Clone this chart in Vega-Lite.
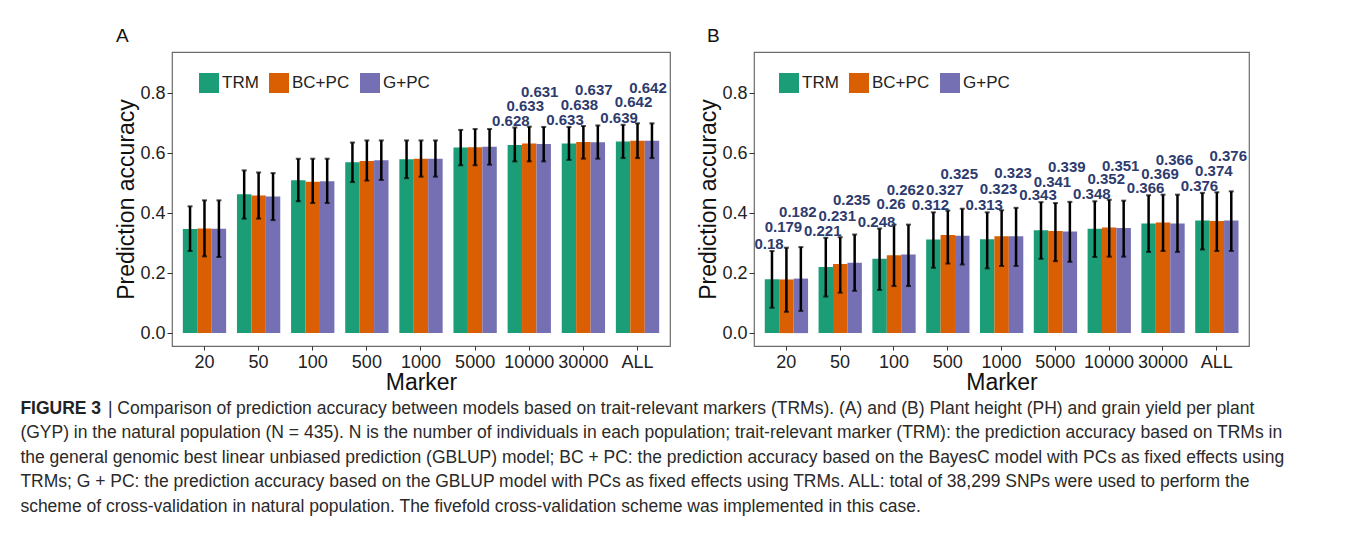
{
  "$schema": "https://vega.github.io/schema/vega-lite/v6.json",
  "padding": {"left": 20, "top": 26, "right": 5, "bottom": 5},
  "background": "white",
  "datasets": {
    "acc": [
      {"panel": "A", "marker": "20", "model": "TRM", "acc": 0.347, "lo": 0.274, "hi": 0.423, "lab": 0},
      {"panel": "A", "marker": "20", "model": "BC+PC", "acc": 0.349, "lo": 0.256, "hi": 0.443, "lab": 0},
      {"panel": "A", "marker": "20", "model": "G+PC", "acc": 0.348, "lo": 0.254, "hi": 0.443, "lab": 0},
      {"panel": "A", "marker": "50", "model": "TRM", "acc": 0.463, "lo": 0.382, "hi": 0.543, "lab": 0},
      {"panel": "A", "marker": "50", "model": "BC+PC", "acc": 0.459, "lo": 0.382, "hi": 0.536, "lab": 0},
      {"panel": "A", "marker": "50", "model": "G+PC", "acc": 0.456, "lo": 0.377, "hi": 0.534, "lab": 0},
      {"panel": "A", "marker": "100", "model": "TRM", "acc": 0.510, "lo": 0.440, "hi": 0.582, "lab": 0},
      {"panel": "A", "marker": "100", "model": "BC+PC", "acc": 0.505, "lo": 0.434, "hi": 0.582, "lab": 0},
      {"panel": "A", "marker": "100", "model": "G+PC", "acc": 0.507, "lo": 0.434, "hi": 0.582, "lab": 0},
      {"panel": "A", "marker": "500", "model": "TRM", "acc": 0.570, "lo": 0.504, "hi": 0.636, "lab": 0},
      {"panel": "A", "marker": "500", "model": "BC+PC", "acc": 0.574, "lo": 0.509, "hi": 0.643, "lab": 0},
      {"panel": "A", "marker": "500", "model": "G+PC", "acc": 0.577, "lo": 0.511, "hi": 0.643, "lab": 0},
      {"panel": "A", "marker": "1000", "model": "TRM", "acc": 0.580, "lo": 0.517, "hi": 0.643, "lab": 0},
      {"panel": "A", "marker": "1000", "model": "BC+PC", "acc": 0.582, "lo": 0.522, "hi": 0.643, "lab": 0},
      {"panel": "A", "marker": "1000", "model": "G+PC", "acc": 0.582, "lo": 0.522, "hi": 0.643, "lab": 0},
      {"panel": "A", "marker": "5000", "model": "TRM", "acc": 0.619, "lo": 0.560, "hi": 0.678, "lab": 0},
      {"panel": "A", "marker": "5000", "model": "BC+PC", "acc": 0.620, "lo": 0.560, "hi": 0.681, "lab": 0},
      {"panel": "A", "marker": "5000", "model": "G+PC", "acc": 0.622, "lo": 0.562, "hi": 0.681, "lab": 0},
      {"panel": "A", "marker": "10000", "model": "TRM", "acc": 0.628, "lo": 0.573, "hi": 0.686, "lab": 1},
      {"panel": "A", "marker": "10000", "model": "BC+PC", "acc": 0.633, "lo": 0.573, "hi": 0.689, "lab": 1},
      {"panel": "A", "marker": "10000", "model": "G+PC", "acc": 0.631, "lo": 0.573, "hi": 0.688, "lab": 1},
      {"panel": "A", "marker": "30000", "model": "TRM", "acc": 0.633, "lo": 0.578, "hi": 0.688, "lab": 1},
      {"panel": "A", "marker": "30000", "model": "BC+PC", "acc": 0.638, "lo": 0.582, "hi": 0.691, "lab": 1},
      {"panel": "A", "marker": "30000", "model": "G+PC", "acc": 0.637, "lo": 0.582, "hi": 0.693, "lab": 1},
      {"panel": "A", "marker": "ALL", "model": "TRM", "acc": 0.639, "lo": 0.584, "hi": 0.695, "lab": 1},
      {"panel": "A", "marker": "ALL", "model": "BC+PC", "acc": 0.642, "lo": 0.584, "hi": 0.700, "lab": 1},
      {"panel": "A", "marker": "ALL", "model": "G+PC", "acc": 0.642, "lo": 0.584, "hi": 0.700, "lab": 1},
      {"panel": "B", "marker": "20", "model": "TRM", "acc": 0.18, "lo": 0.085, "hi": 0.274, "lab": 1},
      {"panel": "B", "marker": "20", "model": "BC+PC", "acc": 0.179, "lo": 0.071, "hi": 0.285, "lab": 1},
      {"panel": "B", "marker": "20", "model": "G+PC", "acc": 0.182, "lo": 0.074, "hi": 0.287, "lab": 1},
      {"panel": "B", "marker": "50", "model": "TRM", "acc": 0.221, "lo": 0.122, "hi": 0.318, "lab": 1},
      {"panel": "B", "marker": "50", "model": "BC+PC", "acc": 0.231, "lo": 0.135, "hi": 0.320, "lab": 1},
      {"panel": "B", "marker": "50", "model": "G+PC", "acc": 0.235, "lo": 0.141, "hi": 0.329, "lab": 1},
      {"panel": "B", "marker": "100", "model": "TRM", "acc": 0.248, "lo": 0.144, "hi": 0.349, "lab": 1},
      {"panel": "B", "marker": "100", "model": "BC+PC", "acc": 0.26, "lo": 0.157, "hi": 0.362, "lab": 1},
      {"panel": "B", "marker": "100", "model": "G+PC", "acc": 0.262, "lo": 0.157, "hi": 0.362, "lab": 1},
      {"panel": "B", "marker": "500", "model": "TRM", "acc": 0.312, "lo": 0.218, "hi": 0.403, "lab": 1},
      {"panel": "B", "marker": "500", "model": "BC+PC", "acc": 0.327, "lo": 0.232, "hi": 0.409, "lab": 1},
      {"panel": "B", "marker": "500", "model": "G+PC", "acc": 0.325, "lo": 0.229, "hi": 0.415, "lab": 1},
      {"panel": "B", "marker": "1000", "model": "TRM", "acc": 0.313, "lo": 0.216, "hi": 0.403, "lab": 1},
      {"panel": "B", "marker": "1000", "model": "BC+PC", "acc": 0.323, "lo": 0.224, "hi": 0.410, "lab": 1},
      {"panel": "B", "marker": "1000", "model": "G+PC", "acc": 0.323, "lo": 0.224, "hi": 0.418, "lab": 1},
      {"panel": "B", "marker": "5000", "model": "TRM", "acc": 0.343, "lo": 0.248, "hi": 0.437, "lab": 1},
      {"panel": "B", "marker": "5000", "model": "BC+PC", "acc": 0.341, "lo": 0.240, "hi": 0.434, "lab": 1},
      {"panel": "B", "marker": "5000", "model": "G+PC", "acc": 0.339, "lo": 0.238, "hi": 0.438, "lab": 1},
      {"panel": "B", "marker": "10000", "model": "TRM", "acc": 0.348, "lo": 0.254, "hi": 0.440, "lab": 1},
      {"panel": "B", "marker": "10000", "model": "BC+PC", "acc": 0.352, "lo": 0.255, "hi": 0.445, "lab": 1},
      {"panel": "B", "marker": "10000", "model": "G+PC", "acc": 0.351, "lo": 0.255, "hi": 0.442, "lab": 1},
      {"panel": "B", "marker": "30000", "model": "TRM", "acc": 0.366, "lo": 0.271, "hi": 0.460, "lab": 1},
      {"panel": "B", "marker": "30000", "model": "BC+PC", "acc": 0.369, "lo": 0.274, "hi": 0.462, "lab": 1},
      {"panel": "B", "marker": "30000", "model": "G+PC", "acc": 0.366, "lo": 0.271, "hi": 0.462, "lab": 1},
      {"panel": "B", "marker": "ALL", "model": "TRM", "acc": 0.376, "lo": 0.279, "hi": 0.468, "lab": 1},
      {"panel": "B", "marker": "ALL", "model": "BC+PC", "acc": 0.374, "lo": 0.274, "hi": 0.470, "lab": 1},
      {"panel": "B", "marker": "ALL", "model": "G+PC", "acc": 0.376, "lo": 0.274, "hi": 0.473, "lab": 1}
    ]
  },
  "data": {"name": "acc"},
  "title": {
    "text": "FIGURE 3",
    "subtitle": [
      "\u200b\u00a0\u00a0\u00a0\u00a0\u00a0\u00a0\u00a0\u00a0\u00a0\u00a0\u00a0\u00a0\u00a0\u00a0\u00a0\u00a0\u00a0\u00a0| Comparison of prediction accuracy between models based on trait-relevant markers (TRMs). (A) and (B) Plant height (PH) and grain yield per plant",
      "(GYP) in the natural population (N = 435). N is the number of individuals in each population; trait-relevant marker (TRM): the prediction accuracy based on TRMs in",
      "the general genomic best linear unbiased prediction (GBLUP) model; BC + PC: the prediction accuracy based on the BayesC model with PCs as fixed effects using",
      "TRMs; G + PC: the prediction accuracy based on the GBLUP model with PCs as fixed effects using TRMs. ALL: total of 38,299 SNPs were used to perform the",
      "scheme of cross-validation in natural population. The fivefold cross-validation scheme was implemented in this case."
    ],
    "orient": "bottom",
    "anchor": "start",
    "frame": "bounds",
    "dx": -95,
    "offset": 5,
    "font": "Liberation Sans",
    "fontSize": 17.5,
    "fontWeight": "bold",
    "color": "#222222",
    "subtitleFont": "Liberation Sans",
    "subtitleFontSize": 17.5,
    "subtitleFontWeight": "normal",
    "subtitleColor": "#2a2a2a",
    "subtitleLineHeight": 24.5,
    "subtitlePadding": -17.5
  },
  "spacing": 26,
  "resolve": {"scale": {"color": "independent"}, "legend": {"color": "independent"}},
  "hconcat": [
    {
      "width": 498,
      "height": 294,
      "title": {"text": "A", "anchor": "start", "frame": "bounds", "fontSize": 19, "fontWeight": "normal", "baseline": "alphabetic", "offset": -9, "dx": 0, "color": "#111111"},
      "transform": [{"filter": "datum.panel == 'A'"}],
      "encoding": {
        "x": {"field": "marker", "type": "nominal", "sort": ["20", "50", "100", "500", "1000", "5000", "10000", "30000", "ALL"], "scale": {"paddingInner": 0.2, "paddingOuter": 0.2}, "title": "Marker"},
        "xOffset": {"field": "model", "type": "nominal", "sort": ["TRM", "BC+PC", "G+PC"]}
      },
      "layer": [
        {
          "mark": {"type": "bar"},
          "encoding": {
            "y": {"field": "acc", "type": "quantitative", "title": "Prediction accuracy", "scale": {"domain": [-0.043, 0.938], "nice": false, "zero": false}, "axis": {"values": [0, 0.2, 0.4, 0.6, 0.8], "format": ".1f"}},
            "y2": {"datum": 0},
            "color": {"field": "model", "type": "nominal", "sort": ["TRM", "BC+PC", "G+PC"], "scale": {"domain": ["TRM", "BC+PC", "G+PC"], "range": ["#1B9E77", "#D95F02", "#7570B3"]}, "legend": {"orient": "none", "legendX": 27, "legendY": 21, "direction": "horizontal", "title": null}}
          }
        },
        {
          "mark": {"type": "rule", "color": "black", "strokeWidth": 2.5},
          "encoding": {"y": {"field": "lo", "type": "quantitative", "title": "Prediction accuracy"}, "y2": {"field": "hi"}}
        },
        {
          "mark": {"type": "tick", "color": "black", "size": 5, "thickness": 2},
          "encoding": {"y": {"field": "lo", "type": "quantitative", "title": "Prediction accuracy"}}
        },
        {
          "mark": {"type": "tick", "color": "black", "size": 5, "thickness": 2},
          "encoding": {"y": {"field": "hi", "type": "quantitative", "title": "Prediction accuracy"}}
        },
        {
          "transform": [{"filter": "datum.model == 'TRM' && datum.lab == 1"}],
          "mark": {"type": "text", "dy": -7, "dx": -4, "baseline": "middle", "fontSize": 15, "fontWeight": "bold", "color": "#2E3B6E"},
          "encoding": {"y": {"field": "hi", "type": "quantitative", "title": "Prediction accuracy"}, "text": {"field": "acc", "type": "quantitative", "format": ".3~f"}}
        },
        {
          "transform": [{"filter": "datum.model == 'BC+PC' && datum.lab == 1"}],
          "mark": {"type": "text", "dy": -21, "dx": -4, "baseline": "middle", "fontSize": 15, "fontWeight": "bold", "color": "#2E3B6E"},
          "encoding": {"y": {"field": "hi", "type": "quantitative", "title": "Prediction accuracy"}, "text": {"field": "acc", "type": "quantitative", "format": ".3~f"}}
        },
        {
          "transform": [{"filter": "datum.model == 'G+PC' && datum.lab == 1"}],
          "mark": {"type": "text", "dy": -35, "dx": -4, "baseline": "middle", "fontSize": 15, "fontWeight": "bold", "color": "#2E3B6E"},
          "encoding": {"y": {"field": "hi", "type": "quantitative", "title": "Prediction accuracy"}, "text": {"field": "acc", "type": "quantitative", "format": ".3~f"}}
        }
      ]
    },
    {
      "width": 495,
      "height": 294,
      "title": {"text": "B", "anchor": "start", "frame": "bounds", "fontSize": 19, "fontWeight": "normal", "baseline": "alphabetic", "offset": -9, "dx": 9, "color": "#111111"},
      "transform": [{"filter": "datum.panel == 'B'"}],
      "encoding": {
        "x": {"field": "marker", "type": "nominal", "sort": ["20", "50", "100", "500", "1000", "5000", "10000", "30000", "ALL"], "scale": {"paddingInner": 0.2, "paddingOuter": 0.2}, "title": "Marker"},
        "xOffset": {"field": "model", "type": "nominal", "sort": ["TRM", "BC+PC", "G+PC"]}
      },
      "layer": [
        {
          "mark": {"type": "bar"},
          "encoding": {
            "y": {"field": "acc", "type": "quantitative", "title": "Prediction accuracy", "scale": {"domain": [-0.043, 0.938], "nice": false, "zero": false}, "axis": {"values": [0, 0.2, 0.4, 0.6, 0.8], "format": ".1f"}},
            "y2": {"datum": 0},
            "color": {"field": "model", "type": "nominal", "sort": ["TRM", "BC+PC", "G+PC"], "scale": {"domain": ["TRM", "BC+PC", "G+PC"], "range": ["#1B9E77", "#D95F02", "#7570B3"]}, "legend": {"orient": "none", "legendX": 25, "legendY": 21, "direction": "horizontal", "title": null}}
          }
        },
        {
          "mark": {"type": "rule", "color": "black", "strokeWidth": 2.5},
          "encoding": {"y": {"field": "lo", "type": "quantitative", "title": "Prediction accuracy"}, "y2": {"field": "hi"}}
        },
        {
          "mark": {"type": "tick", "color": "black", "size": 5, "thickness": 2},
          "encoding": {"y": {"field": "lo", "type": "quantitative", "title": "Prediction accuracy"}}
        },
        {
          "mark": {"type": "tick", "color": "black", "size": 5, "thickness": 2},
          "encoding": {"y": {"field": "hi", "type": "quantitative", "title": "Prediction accuracy"}}
        },
        {
          "transform": [{"filter": "datum.model == 'TRM' && datum.lab == 1"}],
          "mark": {"type": "text", "dy": -7, "dx": -3, "baseline": "middle", "fontSize": 15, "fontWeight": "bold", "color": "#2E3B6E"},
          "encoding": {"y": {"field": "hi", "type": "quantitative", "title": "Prediction accuracy"}, "text": {"field": "acc", "type": "quantitative", "format": ".3~f"}}
        },
        {
          "transform": [{"filter": "datum.model == 'BC+PC' && datum.lab == 1"}],
          "mark": {"type": "text", "dy": -21, "dx": -3, "baseline": "middle", "fontSize": 15, "fontWeight": "bold", "color": "#2E3B6E"},
          "encoding": {"y": {"field": "hi", "type": "quantitative", "title": "Prediction accuracy"}, "text": {"field": "acc", "type": "quantitative", "format": ".3~f"}}
        },
        {
          "transform": [{"filter": "datum.model == 'G+PC' && datum.lab == 1"}],
          "mark": {"type": "text", "dy": -35, "dx": -3, "baseline": "middle", "fontSize": 15, "fontWeight": "bold", "color": "#2E3B6E"},
          "encoding": {"y": {"field": "hi", "type": "quantitative", "title": "Prediction accuracy"}, "text": {"field": "acc", "type": "quantitative", "format": ".3~f"}}
        }
      ]
    }
  ],
  "config": {
    "font": "Liberation Sans",
    "view": {"stroke": "#6b6b6b", "strokeWidth": 1.2},
    "axis": {"grid": false, "domain": false, "tickColor": "#333333", "labelColor": "#222222", "titleColor": "#111111", "labelFontSize": 18, "titleFontSize": 23, "titleFontWeight": "normal"},
    "axisX": {"labelAngle": 0, "tickSize": 4, "labelPadding": 3, "titlePadding": 0},
    "axisY": {"tickSize": 5, "labelPadding": 2, "titlePadding": 1},
    "legend": {"symbolType": "square", "symbolSize": 400, "symbolStrokeWidth": 0, "symbolOpacity": 1, "labelFontSize": 17, "labelColor": "#222222", "labelOffset": 3, "columnPadding": 10, "padding": 0}
  }
}
